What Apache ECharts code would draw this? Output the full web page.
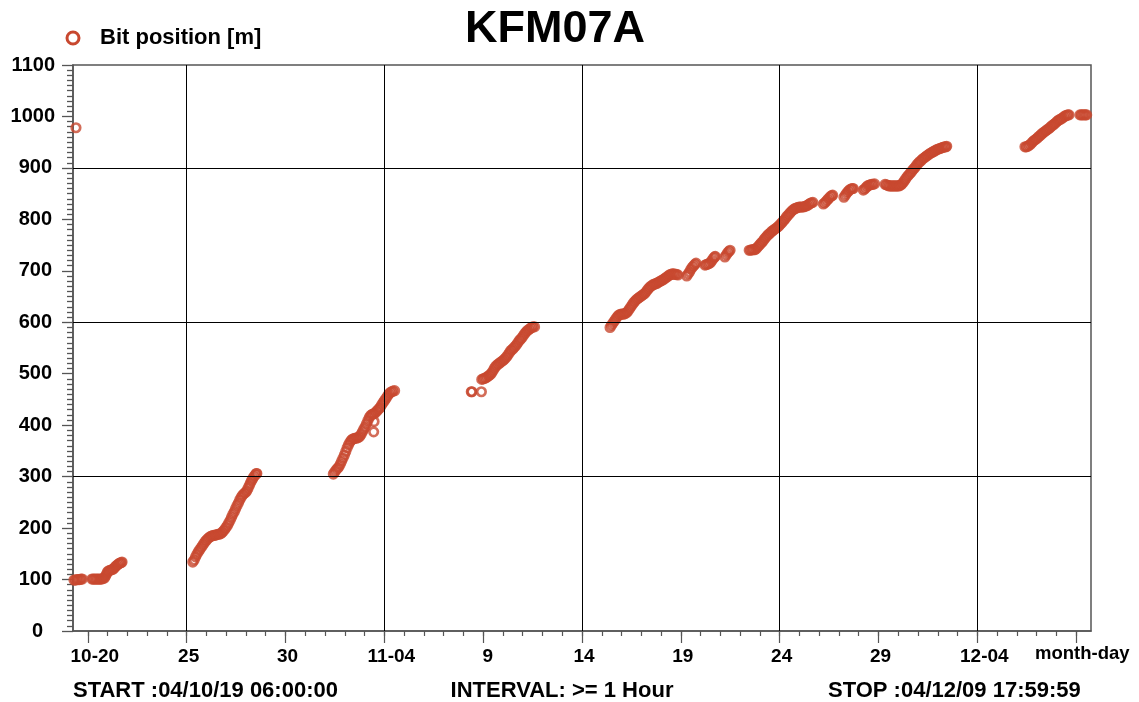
<!DOCTYPE html>
<html>
<head>
<meta charset="utf-8">
<script src="https://cdn.jsdelivr.net/npm/echarts@6/dist/echarts.min.js"></script>
<style>
html,body{margin:0;padding:0;background:#fff;}
#chart{width:1139px;height:702px;}
</style>
</head>
<body>
<div id="chart"></div>
<script>
// x values are "day of October 2004" (Nov 4 = 35, Dec 4 = 65), y = bit position [m]
const xMin = 19.25;   // 04/10/19 06:00:00
const xMax = 70.75;   // 04/12/09 17:59:59
const xDayTicks = [20,21,22,23,24,25,26,27,28,29,30,31,32,33,34,35,36,37,38,39,40,41,42,43,44,45,46,47,48,49,50,51,52,53,54,55,56,57,58,59,60,61,62,63,64,65,66,67,68,69,70];
const xMajorTicks = [20,25,30,35,40,45,50,55,60,65,70];
const xLabelDays = [20,25,30,35,40,45,50,55,60,65];
const xLabels = ['10-20','25','30','11-04','9','14','19','24','29','12-04'];
const xGridDays = [25,35,45,55,65];
const yGridValues = [300,600,900];

const segOct19 = [[19.40,978],[19.30,99],[19.37,99],[19.44,100],[19.51,100],[19.58,100],[19.65,101],[19.72,101]];
const segOct20 = [[20.21,101],[20.28,101],[20.35,101],[20.42,101],[20.49,101],[20.56,101],[20.63,101],[20.70,101],[20.77,102],[20.84,103],[20.90,107],[20.95,111],[21.00,115],[21.06,117],[21.13,118],[21.20,119],[21.27,120],[21.33,122],[21.39,125],[21.45,127],[21.51,129],[21.57,131],[21.63,132],[21.69,133],[21.73,134]];
const segOct25 = [[25.31,134],[25.38,138],[25.45,144],[25.52,149],[25.59,154],[25.66,158],[25.73,162],[25.80,166],[25.87,170],[25.94,174],[26.01,177],[26.08,180],[26.15,182],[26.22,184],[26.29,185],[26.36,186],[26.43,186],[26.50,187],[26.57,188],[26.64,188],[26.71,189],[26.78,191],[26.85,194],[26.92,197],[26.99,201],[27.06,205],[27.13,210],[27.20,215],[27.27,221],[27.34,227],[27.41,232],[27.48,238],[27.55,244],[27.62,249],[27.69,255],[27.76,260],[27.83,264],[27.90,267],[27.97,269],[28.04,272],[28.10,277],[28.16,282],[28.22,287],[28.28,292],[28.34,296],[28.40,300],[28.46,303],[28.52,306],[28.55,306]];
const segNov01 = [[32.42,305],[32.49,309],[32.56,313],[32.63,316],[32.70,319],[32.77,324],[32.84,330],[32.91,336],[32.98,342],[33.05,349],[33.12,356],[33.19,362],[33.26,367],[33.33,371],[33.40,373],[33.47,374],[33.54,375],[33.61,375],[33.68,376],[33.75,378],[33.82,382],[33.89,387],[33.96,392],[34.03,397],[34.10,403],[34.17,409],[34.24,415],[34.31,419],[34.38,421],[34.45,422],[34.52,423],[34.59,426],[34.66,429],[34.73,432],[34.80,435],[34.87,440],[34.94,444],[35.01,448],[35.08,452],[35.15,456],[35.22,460],[35.29,463],[35.36,465],[35.43,466],[35.52,467],[34.48,407],[34.46,387]];
const segNov08 = [[39.40,465],[39.43,465],[39.91,465]];
const segNov09 = [[39.93,489],[40.00,490],[40.07,491],[40.14,492],[40.21,494],[40.28,496],[40.35,498],[40.42,501],[40.49,505],[40.56,510],[40.63,514],[40.70,517],[40.77,519],[40.84,521],[40.91,523],[40.98,525],[41.05,527],[41.12,530],[41.19,533],[41.26,537],[41.33,541],[41.40,545],[41.47,547],[41.54,550],[41.61,553],[41.68,556],[41.75,560],[41.82,564],[41.89,567],[41.96,570],[42.03,574],[42.10,578],[42.17,581],[42.24,584],[42.31,586],[42.38,588],[42.45,590],[42.52,591],[42.60,591]];
const segNov15 = [[46.42,590],[46.49,594],[46.56,598],[46.63,602],[46.70,606],[46.77,610],[46.84,613],[46.91,615],[46.98,616],[47.05,616],[47.12,616],[47.19,617],[47.26,619],[47.33,622],[47.40,626],[47.47,630],[47.54,634],[47.61,638],[47.68,641],[47.75,644],[47.82,646],[47.89,648],[47.96,650],[48.03,652],[48.10,654],[48.17,656],[48.24,659],[48.31,663],[48.38,666],[48.45,669],[48.52,671],[48.59,673],[48.66,674],[48.73,675],[48.80,676],[48.87,678],[48.94,679],[49.01,681],[49.08,682],[49.15,684],[49.22,686],[49.29,688],[49.36,690],[49.43,692],[49.50,693],[49.57,694],[49.64,694],[49.71,693],[49.78,693],[49.85,692]];
const segNov19 = [[50.30,690],[50.37,694],[50.44,698],[50.51,703],[50.58,707],[50.65,710],[50.72,713],[50.77,715],[51.22,711],[51.29,712],[51.36,713],[51.43,714],[51.50,716],[51.57,720],[51.64,724],[51.71,727],[51.74,728],[52.23,727],[52.30,731],[52.37,735],[52.44,738],[52.49,740]];
const segNov22 = [[53.46,740],[53.53,740],[53.60,741],[53.67,741],[53.74,741],[53.81,743],[53.88,746],[53.95,749],[54.02,752],[54.09,755],[54.16,758],[54.23,762],[54.30,765],[54.37,768],[54.44,771],[54.51,773],[54.58,776],[54.65,778],[54.72,780],[54.79,782],[54.86,784],[54.93,786],[55.00,789],[55.07,792],[55.14,795],[55.21,798],[55.28,801],[55.35,805],[55.42,808],[55.49,811],[55.56,814],[55.63,817],[55.70,819],[55.77,821],[55.84,822],[55.91,823],[55.98,824],[56.05,824],[56.12,824],[56.19,824],[56.26,825],[56.33,826],[56.40,827],[56.47,829],[56.54,831],[56.61,832],[56.68,833]];
const segNov27 = [[57.21,830],[57.28,832],[57.35,835],[57.42,838],[57.49,841],[57.56,844],[57.63,846],[57.68,847],[58.25,843],[58.32,847],[58.39,851],[58.46,854],[58.53,857],[58.60,859],[58.67,860],[58.72,860],[59.23,857],[59.30,859],[59.37,862],[59.44,865],[59.51,866],[59.58,867],[59.65,868],[59.72,868],[59.80,869]];
const segNov30 = [[60.33,868],[60.40,867],[60.47,866],[60.54,865],[60.61,865],[60.68,865],[60.75,865],[60.82,865],[60.89,865],[60.96,865],[61.03,865],[61.10,866],[61.17,868],[61.24,871],[61.31,875],[61.38,879],[61.45,883],[61.52,886],[61.59,889],[61.66,892],[61.73,896],[61.80,899],[61.87,902],[61.94,906],[62.01,909],[62.08,912],[62.15,914],[62.22,917],[62.29,919],[62.36,921],[62.43,923],[62.50,925],[62.57,927],[62.64,929],[62.71,930],[62.78,932],[62.85,933],[62.92,935],[62.99,936],[63.06,937],[63.13,938],[63.20,939],[63.27,940],[63.34,941],[63.41,941],[63.45,942]];
const segDec06 = [[67.41,941],[67.48,941],[67.55,942],[67.62,944],[67.69,946],[67.76,949],[67.83,952],[67.90,954],[67.97,956],[68.04,958],[68.11,961],[68.18,963],[68.25,966],[68.32,968],[68.39,970],[68.46,972],[68.53,974],[68.60,976],[68.67,978],[68.74,981],[68.81,983],[68.88,985],[68.95,987],[69.02,990],[69.09,992],[69.16,994],[69.23,995],[69.30,997],[69.37,999],[69.44,1001],[69.51,1002],[69.58,1003],[69.64,1003],[70.19,1003],[70.26,1003],[70.33,1003],[70.40,1003],[70.47,1003],[70.53,1003]];

const bitData = [].concat(segOct19, segOct20, segOct25, segNov01, segNov08, segNov09, segNov15, segNov19, segNov22, segNov27, segNov30, segDec06);

const RED = '#c8482f';
const AXIS = '#555';
const FONT = "'Liberation Sans', Arial, sans-serif";

const chart = echarts.init(document.getElementById('chart'), null, {renderer:'canvas'});

const option = {
  animation: false,
  backgroundColor: '#fff',
  grid: { left: 73, right: 48, top: 65, bottom: 71, show: true, borderColor: AXIS, borderWidth: 1.5, backgroundColor: 'transparent' },
  xAxis: [
    {
      type: 'value', min: xMin, max: xMax, position: 'bottom',
      axisLine: { show: true, lineStyle: { color: AXIS, width: 1.5 } },
      axisTick: { show: true, customValues: xDayTicks, length: 5, lineStyle: { color: AXIS, width: 1.2 } },
      axisLabel: { show: false },
      splitLine: { show: false }
    },
    {
      type: 'value', min: xMin, max: xMax, position: 'bottom',
      axisLine: { show: false },
      axisTick: { show: true, customValues: xMajorTicks, length: 12, lineStyle: { color: AXIS, width: 1.2 } },
      axisLabel: {
        show: true, customValues: xLabelDays, margin: 16,
        fontFamily: FONT, fontWeight: 'bold', fontSize: 19, color: '#000',
        formatter: function (v) {
          const i = xLabelDays.indexOf(Math.round(v));
          if (i < 0) return '';
          const t = xLabels[i];
          return t.indexOf('-') >= 0 ? '{d|' + t + '}' : (t.length === 1 ? '{s|' + t + '}' : '{n|' + t + '}');
        },
        rich: {
          d: { fontFamily: FONT, fontWeight: 'bold', fontSize: 19, padding: [0, 0, 0, 14] },
          n: { fontFamily: FONT, fontWeight: 'bold', fontSize: 19, padding: [0, 0, 0, 4] },
          s: { fontFamily: FONT, fontWeight: 'bold', fontSize: 19, padding: [0, 0, 0, 9] }
        }
      },
      splitLine: { show: false }
    }
  ],
  yAxis: {
    type: 'value', min: 0, max: 1100, interval: 100,
    axisLine: { show: true, lineStyle: { color: AXIS, width: 1.5 } },
    axisTick: { show: true, length: 11, lineStyle: { color: AXIS, width: 1.3 } },
    minorTick: { show: true, splitNumber: 10, length: 6, lineStyle: { color: AXIS, width: 1.3 } },
    axisLabel: {
      margin: 18, fontFamily: FONT, fontWeight: 'bold', fontSize: 20, color: '#000',
      formatter: function (v) {
        const s = String(v);
        return s.length === 1 ? '{o|' + s + '}' : (s.length === 3 ? '{t|' + s + '}' : '{f|' + s + '}');
      },
      rich: {
        o: { fontFamily: FONT, fontWeight: 'bold', fontSize: 20, padding: [0, 12, 0, 0] },
        t: { fontFamily: FONT, fontWeight: 'bold', fontSize: 20, padding: [0, 3, 0, 0] },
        f: { fontFamily: FONT, fontWeight: 'bold', fontSize: 20 }
      }
    },
    splitLine: { show: false }
  },
  series: [
    {
      type: 'line', data: [], silent: true, z: 1,
      markLine: {
        silent: true, symbol: 'none', animation: false,
        label: { show: false },
        lineStyle: { color: '#000', width: 1, type: 'solid' },
        emphasis: { disabled: true },
        data: xGridDays.map(function (d) { return { xAxis: d }; })
          .concat(yGridValues.map(function (v) { return { yAxis: v }; }))
      }
    },
    {
      name: 'Bit position [m]', type: 'scatter', data: bitData, z: 3,
      symbol: 'circle', symbolSize: 8.5,
      itemStyle: { color: 'rgba(0,0,0,0)', borderColor: RED, borderWidth: 2.7 },
      emphasis: { disabled: true }
    }
  ],
  graphic: [
    { type: 'circle', shape: { cx: 73, cy: 38, r: 6 }, style: { fill: 'none', stroke: RED, lineWidth: 3 } },
    { type: 'text', x: 100, y: 38, style: { text: 'Bit position [m]', font: 'bold 22px ' + FONT, fill: '#000', textAlign: 'left', textVerticalAlign: 'middle' } },
    { type: 'text', x: 555, y: 30, style: { text: 'KFM07A', font: 'bold 45px ' + FONT, fill: '#000', textAlign: 'center', textVerticalAlign: 'middle' } },
    { type: 'text', x: 1035, y: 654, style: { text: 'month-day', font: 'bold 18.5px ' + FONT, fill: '#000', textAlign: 'left', textVerticalAlign: 'middle' } },
    { type: 'text', x: 73, y: 691, style: { text: 'START :04/10/19 06:00:00', font: 'bold 22px ' + FONT, fill: '#000', textAlign: 'left', textVerticalAlign: 'middle' } },
    { type: 'text', x: 562, y: 691, style: { text: 'INTERVAL: >= 1 Hour', font: 'bold 22px ' + FONT, fill: '#000', textAlign: 'center', textVerticalAlign: 'middle' } },
    { type: 'text', x: 828, y: 691, style: { text: 'STOP :04/12/09 17:59:59', font: 'bold 22px ' + FONT, fill: '#000', textAlign: 'left', textVerticalAlign: 'middle' } }
  ]
};
chart.setOption(option);
</script>
</body>
</html>
